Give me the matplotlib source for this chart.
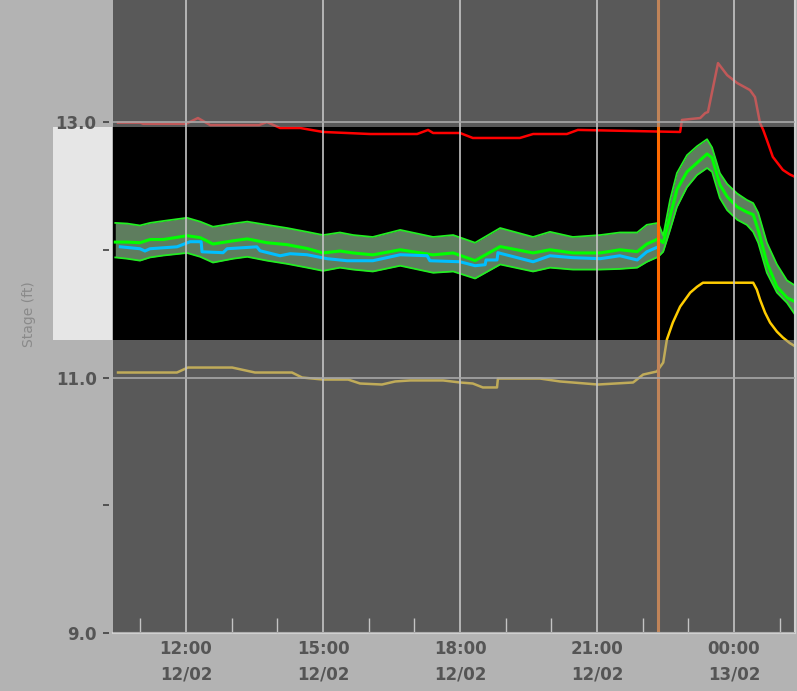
import matplotlib
matplotlib.use("Agg")
import matplotlib.pyplot as plt
import matplotlib.dates as mdates
import matplotlib.transforms as mtransforms
from matplotlib.patches import Rectangle
import pandas as pd

plt.rcParams["font.family"] = "DejaVu Sans"
plt.rcParams["font.weight"] = "bold"

BASE = pd.Timestamp("2021-02-12")

# hours after 12/02 00:00, stage in ft
red_hours = [10.51, 11.00, 11.06, 12.00, 12.26, 12.53, 13.60, 13.77, 14.06, 14.50, 15.00, 16.03, 17.06,
             17.30, 17.41, 18.00, 18.28, 19.31, 19.60, 20.34, 20.58, 22.82, 22.86, 23.04, 23.26, 23.37,
             23.43, 23.65, 23.85, 24.07, 24.35, 24.46, 24.57, 24.64, 24.72, 24.85, 25.07, 25.22, 25.38]
red_stage = [12.995, 12.995, 12.986, 12.986, 13.031, 12.976, 12.976, 13.000, 12.953, 12.953, 12.922,
             12.906, 12.906, 12.938, 12.914, 12.914, 12.875, 12.875, 12.906, 12.906, 12.938, 12.922,
             13.016, 13.023, 13.031, 13.070, 13.078, 13.461, 13.367, 13.305, 13.250, 13.195, 12.992,
             12.938, 12.859, 12.727, 12.625, 12.590, 12.563]

gold_hours = [10.51, 11.80, 12.04, 13.01, 13.51, 14.32, 14.54, 15.00, 15.55, 15.81, 16.29, 16.58, 16.91,
              17.63, 18.00, 18.28, 18.50, 18.81, 18.83, 19.75, 20.19, 21.02, 21.79, 22.01, 22.31, 22.45,
              22.53, 22.66, 22.82, 23.04, 23.19, 23.32, 24.42, 24.50, 24.57, 24.68, 24.79, 24.94, 25.07,
              25.22, 25.38]
gold_stage = [11.039, 11.039, 11.078, 11.078, 11.039, 11.039, 11.000, 10.984, 10.984, 10.953, 10.945,
              10.969, 10.977, 10.977, 10.961, 10.953, 10.922, 10.922, 10.992, 10.992, 10.969, 10.945,
              10.961, 11.023, 11.047, 11.117, 11.297, 11.430, 11.555, 11.664, 11.710, 11.742, 11.742,
              11.688, 11.610, 11.508, 11.430, 11.359, 11.313, 11.270, 11.235]

model_hours = [10.45, 10.71, 10.99, 11.21, 11.50, 12.02, 12.31, 12.59, 13.03, 13.34, 13.77, 14.21, 14.65,
               15.00, 15.37, 15.66, 16.09, 16.69, 17.41, 17.85, 18.33, 18.88, 19.60, 19.97, 20.47, 21.07,
               21.50, 21.88, 22.09, 22.34, 22.45, 22.60, 22.75, 22.97, 23.19, 23.41, 23.52, 23.69, 23.85,
               24.07, 24.28, 24.42, 24.53, 24.72, 24.94, 25.16, 25.38]
model_stage = [12.060, 12.060, 12.055, 12.080, 12.080, 12.110, 12.095, 12.045, 12.070, 12.085, 12.055,
               12.040, 12.010, 11.975, 11.990, 11.975, 11.960, 12.000, 11.960, 11.975, 11.915, 12.025,
               11.975, 12.000, 11.975, 11.975, 12.000, 11.985, 12.045, 12.085, 12.055, 12.260, 12.470,
               12.610, 12.680, 12.750, 12.720, 12.510, 12.415, 12.335, 12.295, 12.275, 12.155, 11.900,
               11.710, 11.625, 11.585]
model_upper = [12.210, 12.205, 12.190, 12.210, 12.225, 12.250, 12.220, 12.180, 12.205, 12.220, 12.195,
               12.170, 12.140, 12.115, 12.135, 12.115, 12.100, 12.155, 12.100, 12.115, 12.055, 12.170,
               12.100, 12.140, 12.100, 12.115, 12.135, 12.135, 12.195, 12.210, 12.110, 12.390, 12.600,
               12.740, 12.810, 12.865, 12.800, 12.600, 12.515, 12.440, 12.390, 12.365, 12.290, 12.055,
               11.885, 11.760, 11.710]
model_lower = [11.940, 11.930, 11.915, 11.940, 11.955, 11.975, 11.945, 11.900, 11.930, 11.945, 11.915,
               11.890, 11.860, 11.835, 11.860, 11.845, 11.830, 11.875, 11.820, 11.830, 11.775, 11.885,
               11.830, 11.860, 11.845, 11.845, 11.850, 11.860, 11.905, 11.945, 11.985, 12.155, 12.335,
               12.490, 12.585, 12.640, 12.610, 12.405, 12.310, 12.235, 12.195, 12.140, 12.055, 11.820,
               11.665, 11.585, 11.470]

obs_hours = [10.56, 10.99, 11.10, 11.21, 11.80, 12.09, 12.33, 12.35, 12.81, 12.90, 13.55, 13.62, 14.06,
             14.28, 14.65, 15.09, 15.53, 16.09, 16.69, 17.28, 17.34, 18.00, 18.33, 18.55, 18.57, 18.81,
             18.83, 19.60, 19.97, 20.47, 21.07, 21.50, 21.88, 22.09, 22.34]
obs_stage = [12.023, 12.008, 11.990, 12.008, 12.023, 12.063, 12.063, 11.984, 11.977, 12.008, 12.023,
             11.992, 11.953, 11.969, 11.961, 11.930, 11.914, 11.914, 11.961, 11.953, 11.914, 11.906,
             11.875, 11.883, 11.920, 11.920, 11.977, 11.906, 11.953, 11.938, 11.930, 11.953, 11.920,
             11.984, 12.023]

now_hour = 22.34
focus_lo, focus_hi = 11.294, 12.961
x_range = (10.40, 25.336)
y_range = (9.0, 13.955)


def to_time(hours):
    return BASE + pd.to_timedelta(hours, unit="h")


fig = plt.figure(figsize=(7.97, 6.91), dpi=100, facecolor="#b3b3b3")
ax = fig.add_axes([113 / 797, 58 / 691, (795 - 113) / 797, 633 / 691])
ax.set_facecolor("black")

# model band and lines
ax.fill_between(to_time(model_hours), model_lower, model_upper, color="#5e7d5e", lw=0, zorder=2.0)
ax.plot(to_time(model_hours), model_upper, color="#22ee22", lw=1.3, zorder=2.05)
ax.plot(to_time(model_hours), model_lower, color="#22ee22", lw=1.3, zorder=2.05)
ax.plot(to_time(model_hours), model_stage, color="#00ff00", lw=2.2, zorder=2.1)
ax.plot(to_time(obs_hours), obs_stage, color="#00bfff", lw=2.2, zorder=2.15)
ax.plot(to_time(red_hours), red_stage, color="#ff0000", lw=1.8, zorder=2.1)
ax.plot(to_time(gold_hours), gold_stage, color="#ffcc00", lw=1.8, zorder=2.1)
ax.axvline(to_time(now_hour), color="#ff6a00", lw=2.2, zorder=2.2)

# dim everything outside the focus band
ax.axhspan(focus_hi, y_range[1] + 1, color="#969696", alpha=0.6, lw=0, zorder=2.3)
ax.axhspan(y_range[0] - 1, focus_lo, color="#969696", alpha=0.6, lw=0, zorder=2.3)

ax.set_xlim(to_time(x_range[0]), to_time(x_range[1]))
ax.set_ylim(*y_range)

ax.xaxis.set_major_locator(mdates.HourLocator(byhour=range(0, 24, 3)))
ax.xaxis.set_minor_locator(mdates.HourLocator())
ax.xaxis.set_major_formatter(mdates.DateFormatter("%H:%M\n%d/%m"))
ax.set_yticks([9.0, 11.0, 13.0])
ax.set_yticks([10.0, 12.0], minor=True)
ax.yaxis.set_major_formatter(matplotlib.ticker.FormatStrFormatter("%.1f"))

ax.set_axisbelow(False)
ax.grid(axis="x", which="major", color="#c4c4c4", lw=1.2)
ax.grid(axis="y", which="major", color="#a8a8a8", lw=1.2)

ax.tick_params(axis="x", which="major", length=0, pad=5, labelsize=12, labelcolor="#555555")
ax.tick_params(axis="x", which="minor", direction="in", length=11, width=1, color="#c4c4c4")
ax.tick_params(axis="y", which="both", direction="out", length=4.5, width=1.2, color="#404040",
               pad=4.3, labelsize=12, labelcolor="#555555")

for side in ["top", "left"]:
    ax.spines[side].set_visible(False)
ax.spines["left"].set_position(("outward", 3))
for side in ["bottom", "right"]:
    ax.spines[side].set_color("#d0d0d0")
    ax.spines[side].set_linewidth(1.5)

# light box left of the focus band
blend = mtransforms.blended_transform_factory(fig.transFigure, ax.transData)
fig.add_artist(Rectangle((53 / 797, focus_lo), 59 / 797, focus_hi - focus_lo, transform=blend,
                         facecolor="#e6e6e6", edgecolor="none", zorder=-1))

fig.text(28.5 / 797, 1 - 314 / 691, "Stage (ft)", rotation=90, ha="center", va="center",
         fontsize=10, color="#8a8a8a", fontweight="normal")

fig.canvas.draw()
for lbl in ax.get_xticklabels():
    lbl.set_linespacing(1.55)

fig.savefig("out.png", dpi=100, facecolor=fig.get_facecolor())
